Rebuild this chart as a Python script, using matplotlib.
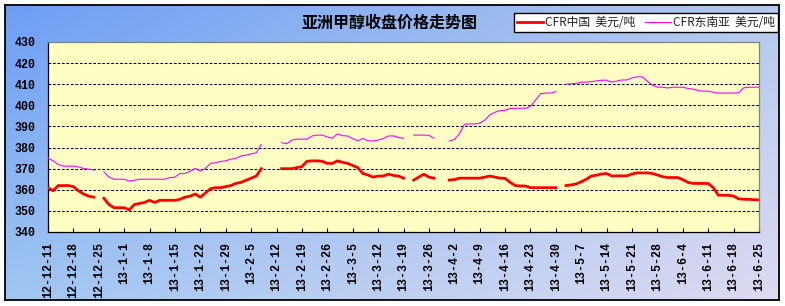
import matplotlib
matplotlib.use("Agg")
import matplotlib.pyplot as plt
import numpy as np
from matplotlib.patches import Rectangle

nan = np.nan

# weekly tick labels (data is one value per business day, 5 per week)
tick_labels = ["12-12-11", "12-12-18", "12-12-25", "13-1-1", "13-1-8", "13-1-15",
               "13-1-22", "13-1-29", "13-2-5", "13-2-12", "13-2-19", "13-2-26",
               "13-3-5", "13-3-12", "13-3-19", "13-3-26", "13-4-2", "13-4-9",
               "13-4-16", "13-4-23", "13-4-30", "13-5-7", "13-5-14", "13-5-21",
               "13-5-28", "13-6-4", "13-6-11", "13-6-18", "13-6-25"]

# CFR China, USD/t
cfr_china = [
    361, 359.5, 362, 362, 362, 361.5, 359.5, 358, 357, 356.5,
    nan, 356, 353, 351.5, 351.5, 351.5, 350.5, 353, 353.5, 354,
    355, 354, 355, 355, 355, 355, 355.5, 356.5, 357, 358,
    356.5, 358.5, 360.5, 361, 361, 361.5, 362, 363, 363.5, 364.5,
    365.5, 366.5, 370, nan, nan, nan, 370, 370, 370, 370.5,
    371, 373.5, 373.7, 373.7, 373.5, 372.5, 372.5, 373.7, 373, 372.5,
    371.5, 370.5, 367.7, 367, 366, 366.5, 366.5, 367.4, 366.8, 366.5,
    365.5, nan, 364.6, 366, 367.4, 366, 365.5, nan, nan, 364.6,
    364.8, 365.5, 365.5, 365.5, 365.5, 365.5, 366, 366.5, 366, 365.5,
    365.4, 363.5, 362, 361.8, 361.8, 361, 361, 361, 361, 361,
    361, nan, 362, 362.3, 362.8, 363.8, 365, 366.5, 366.9, 367.5,
    367.7, 366.5, 366.6, 366.6, 366.6, 367.5, 368, 368, 368, 367.7,
    367, 366.2, 365.8, 365.8, 365.8, 364.8, 363.5, 363, 363, 363,
    363, 361, 357.4, 357.4, 357.4, 357, 355.7, 355.5, 355.5, 355.3,
    355.2]

# CFR Southeast Asia, USD/t
cfr_sea = [
    375, 373.7, 372, 371.2, 371.2, 371.2, 370.8, 370.1, 369.8, 369.3,
    nan, 368.5, 366, 365, 365, 365, 364.1, 364.5, 365, 365,
    365, 365, 365, 365, 365.8, 366, 367.7, 367.7, 368.8, 370.1,
    368.9, 370.1, 372.5, 372.8, 373.4, 373.7, 374.5, 374.9, 376, 376.4,
    377, 377.5, 381.5, nan, nan, nan, 382.3, 381.8, 383.5, 384,
    384, 384, 385.5, 385.9, 385.9, 385, 384.4, 386.5, 385.6, 385.5,
    384.2, 383.2, 384.3, 383.2, 383.1, 383.6, 384.2, 385.5, 385.5, 384.8,
    384.4, nan, 385.9, 385.9, 385.9, 385.8, 384.4, nan, nan, 383.1,
    383.8, 386.5, 391, 391.2, 391.2, 391.5, 393, 395.5, 396.7, 397.5,
    397.7, 398.5, 398.6, 398.6, 398.6, 399.5, 402.5, 405.5, 405.8, 405.8,
    406.5, nan, 410, 410.2, 410.4, 411, 411, 411.2, 411.6, 411.9,
    411.9, 411, 411.5, 412, 412, 413, 413.5, 413.5, 411.5, 409.5,
    408.6, 408.6, 408.2, 408.6, 408.6, 408.6, 408, 407.7, 407, 406.7,
    406.7, 406.2, 405.8, 405.8, 405.8, 405.8, 406, 408.3, 408.6, 408.6,
    408.6]

x = np.arange(len(cfr_china))
tick_pos = np.arange(0, len(cfr_china), 5)

W, H = 785, 306
fig = plt.figure(figsize=(W / 100, H / 100), dpi=100)
fig.patch.set_facecolor("white")

# outer chart area: blue gradient background with black border
bx0, by0, bx1, by1 = 5, 5, 779, 300
bg = fig.add_axes([bx0 / W, 1 - by1 / H, (bx1 - bx0) / W, (by1 - by0) / H], zorder=-10)
tl = np.array([0x6D, 0x9E, 0xF5]) / 255
tr = np.array([0xB4, 0xCA, 0xEE]) / 255
bl = np.array([0xA0, 0xC6, 0xF2]) / 255
br = np.array([0xDE, 0xDA, 0xF2]) / 255
u = np.linspace(0, 1, 200)[None, :, None]
v = np.linspace(0, 1, 100)[:, None, None]
grad = (1 - v) * ((1 - u) * tl + u * tr) + v * ((1 - u) * bl + u * br)
bg.imshow(grad, aspect="auto", extent=[0, 1, 0, 1], origin="upper")
bg.set_xticks([])
bg.set_yticks([])
for s in bg.spines.values():
    s.set_color("black")
    s.set_linewidth(1.3)

# plot area
ax = fig.add_axes([48 / W, 1 - 232 / H, 711 / W, 190 / H])
ax.set_facecolor("#FFFFC4")
ax.plot(x, cfr_china, color="#FF0000", lw=2.0, label="CFR中国  美元/吨",
        solid_capstyle="projecting", zorder=3)
ax.plot(x, cfr_sea, color="#FF00FF", lw=0.8, label="CFR东南亚  美元/吨", zorder=3)

ax.set_xlim(0, len(cfr_china) - 1)
ax.set_ylim(340, 430)
ax.set_yticks(np.arange(340, 431, 10))
for yv in range(350, 430, 10):
    ax.axhline(yv, color="black", lw=0.75, dashes=(2.6, 1.7), zorder=1)

ax.set_xticks(tick_pos)
ax.set_xticklabels(tick_labels, rotation=90, va="top", ha="center")
ax.tick_params(axis="x", direction="in", length=3, width=0.8, pad=7)
ax.tick_params(axis="y", length=0, pad=9)
for lab in ax.get_xticklabels() + ax.get_yticklabels():
    lab.set_fontfamily("Liberation Mono")
    lab.set_fontweight("bold")
    lab.set_fontsize(8.4)

ax.spines["left"].set_color("black")
ax.spines["bottom"].set_color("black")
ax.spines["top"].set_color("#808080")
ax.spines["right"].set_color("#808080")
for s in ax.spines.values():
    s.set_linewidth(0.9)

fig.text(390 / W, 1 - 23 / H, "亚洲甲醇收盘价格走势图", ha="center", va="center",
         fontsize=11.5, fontweight="bold", family=["Noto Sans CJK SC", "DejaVu Sans"])

leg = fig.legend(loc="upper right", bbox_to_anchor=(778 / W, 1 - 13 / H), ncol=2,
                 frameon=True, fancybox=False, edgecolor="black", framealpha=1,
                 prop={"family": ["Noto Sans CJK SC", "DejaVu Sans"], "size": 8.5},
                 handlelength=2.2, handletextpad=0.2, columnspacing=0.8,
                 borderpad=0.25, borderaxespad=0)
leg.get_frame().set_linewidth(1.0)
for t in leg.get_texts():
    t.set_color("#222222")

fig.savefig("out.png", dpi=100)
